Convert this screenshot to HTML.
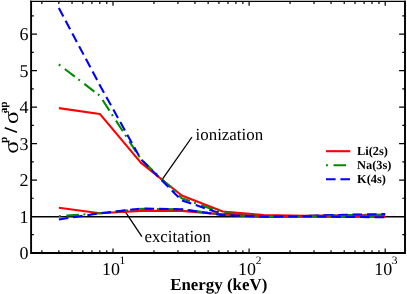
<!DOCTYPE html>
<html><head><meta charset="utf-8"><title>plot</title>
<style>html,body{margin:0;padding:0;background:#fff;}svg{display:block;will-change:transform;}text{font-family:"Liberation Serif",serif;fill:#000;text-rendering:geometricPrecision;}</style>
</head><body>
<svg width="407" height="294" viewBox="0 0 407 294">
<rect x="0" y="0" width="407" height="294" fill="#fff"/>
<line x1="31.1" y1="216.69" x2="405.0" y2="216.69" stroke="#000" stroke-width="1.4"/>
<line x1="161.4" y1="180.7" x2="192" y2="137" stroke="#000" stroke-width="1.3"/>
<line x1="125.2" y1="211.6" x2="141.9" y2="236.7" stroke="#000" stroke-width="1.3"/>
<polyline points="58.84,108.09 99.81,113.92 140.78,162.69 181.75,195.45 222.72,211.47 263.69,215.11 304.66,215.76 345.63,215.29 385.20,214.93" fill="none" stroke="#ff0000" stroke-width="2.1" stroke-linejoin="round"/>
<polyline points="58.84,64.41 99.81,95.72 140.78,159.05 181.75,198.18 222.72,212.92 263.69,216.38 304.66,216.02 345.63,215.11 385.20,214.56" fill="none" stroke="#008b00" stroke-width="2.1" stroke-linejoin="round" stroke-dasharray="1.9 5.6 12.6 4.5"/>
<polyline points="58.84,7.99 99.81,85.16 140.78,159.05 181.75,200.37 222.72,214.20 263.69,216.56 304.66,216.02 345.63,214.74 385.20,214.02" fill="none" stroke="#0000ff" stroke-width="2.1" stroke-linejoin="round" stroke-dasharray="9.6 4.8"/>
<polyline points="58.84,207.83 99.81,213.29 140.78,210.92 181.75,210.92 222.72,214.38 263.69,216.38 304.66,216.20 345.63,216.56 385.20,216.93" fill="none" stroke="#ff0000" stroke-width="2.1" stroke-linejoin="round"/>
<polyline points="58.84,216.20 99.81,213.29 140.78,208.92 181.75,209.28 222.72,214.74 263.69,216.75 304.66,216.38 345.63,216.75 385.20,217.11" fill="none" stroke="#008b00" stroke-width="2.1" stroke-linejoin="round" stroke-dasharray="1.9 5.6 12.6 4.5"/>
<polyline points="58.84,219.48 99.81,213.29 140.78,208.56 181.75,209.28 222.72,215.11 263.69,216.75 304.66,216.38 345.63,216.93 385.20,217.29" fill="none" stroke="#0000ff" stroke-width="2.1" stroke-linejoin="round" stroke-dasharray="9.6 4.8"/>
<path d="M41.84,252.95v-2.7 M41.84,1.3v2.7 M58.84,252.95v-2.7 M58.84,1.3v2.7 M72.03,252.95v-2.7 M72.03,1.3v2.7 M82.81,252.95v-2.7 M82.81,1.3v2.7 M91.92,252.95v-2.7 M91.92,1.3v2.7 M99.81,252.95v-2.7 M99.81,1.3v2.7 M106.77,252.95v-2.7 M106.77,1.3v2.7 M113.00,252.95v-4.5 M113.00,1.3v4.5 M153.97,252.95v-2.7 M153.97,1.3v2.7 M177.94,252.95v-2.7 M177.94,1.3v2.7 M194.94,252.95v-2.7 M194.94,1.3v2.7 M208.13,252.95v-2.7 M208.13,1.3v2.7 M218.91,252.95v-2.7 M218.91,1.3v2.7 M228.02,252.95v-2.7 M228.02,1.3v2.7 M235.91,252.95v-2.7 M235.91,1.3v2.7 M242.87,252.95v-2.7 M242.87,1.3v2.7 M249.10,252.95v-4.5 M249.10,1.3v4.5 M290.07,252.95v-2.7 M290.07,1.3v2.7 M314.04,252.95v-2.7 M314.04,1.3v2.7 M331.04,252.95v-2.7 M331.04,1.3v2.7 M344.23,252.95v-2.7 M344.23,1.3v2.7 M355.01,252.95v-2.7 M355.01,1.3v2.7 M364.12,252.95v-2.7 M364.12,1.3v2.7 M372.01,252.95v-2.7 M372.01,1.3v2.7 M378.97,252.95v-2.7 M378.97,1.3v2.7 M385.20,252.95v-4.5 M385.20,1.3v4.5 M31.1,234.72h2.7 M405.0,234.72h-2.7 M31.1,216.49h5.9 M405.0,216.49h-5.9 M31.1,198.26h2.7 M405.0,198.26h-2.7 M31.1,180.03h5.9 M405.0,180.03h-5.9 M31.1,161.80h2.7 M405.0,161.80h-2.7 M31.1,143.57h5.9 M405.0,143.57h-5.9 M31.1,125.34h2.7 M405.0,125.34h-2.7 M31.1,107.11h5.9 M405.0,107.11h-5.9 M31.1,88.88h2.7 M405.0,88.88h-2.7 M31.1,70.65h5.9 M405.0,70.65h-5.9 M31.1,52.42h2.7 M405.0,52.42h-2.7 M31.1,34.19h5.9 M405.0,34.19h-5.9 M31.1,15.96h2.7 M405.0,15.96h-2.7" stroke="#000" stroke-width="1.2" fill="none"/>
<path d="M31.1,0.7V252.95H405.0V0.7" fill="none" stroke="#000" stroke-width="1.9" stroke-linejoin="miter"/>
<line x1="30.150000000000002" y1="1.35" x2="405.95" y2="1.35" stroke="#000" stroke-width="1.4"/>
<text x="28.6" y="259.20" font-size="18" text-anchor="end">0</text>
<text x="28.6" y="222.74" font-size="18" text-anchor="end">1</text>
<text x="28.6" y="186.28" font-size="18" text-anchor="end">2</text>
<text x="28.6" y="149.82" font-size="18" text-anchor="end">3</text>
<text x="28.6" y="113.36" font-size="18" text-anchor="end">4</text>
<text x="28.6" y="76.90" font-size="18" text-anchor="end">5</text>
<text x="28.6" y="40.44" font-size="18" text-anchor="end">6</text>
<text x="102.00" y="275" font-size="18">10</text>
<text x="119.60" y="264.3" font-size="11.5">1</text>
<text x="238.10" y="275" font-size="18">10</text>
<text x="255.70" y="264.3" font-size="11.5">2</text>
<text x="374.20" y="275" font-size="18">10</text>
<text x="391.80" y="264.3" font-size="11.5">3</text>
<text x="195.6" y="139.6" font-size="16.9">ionization</text>
<text x="144.4" y="242.1" font-size="16.9">excitation</text>
<text x="170.2" y="289.7" font-size="16.9" font-weight="bold">Energy (keV)</text>
<g transform="translate(18.0,153.3) rotate(-90)">
<text x="0" y="0" font-size="21.4" transform="translate(-0.4,0) scale(1.16,1)">σ</text>
<text x="10.4" y="-10.8" font-size="11.2" font-weight="bold">p</text>
<line x1="21.0" y1="-1.0" x2="25.5" y2="-13.2" stroke="#000" stroke-width="1.6"/>
<text x="29.6" y="0" font-size="21.4" transform="translate(29.3,0) scale(1.14,1) translate(-29.6,0)">σ</text>
<text x="40.0" y="-10.8" font-size="11.2" font-weight="bold">ap</text>
</g>
<line x1="326" y1="151.2" x2="350.3" y2="151.2" stroke="#ff0000" stroke-width="2.1"/>
<line x1="326" y1="165.2" x2="350.3" y2="165.2" stroke="#008b00" stroke-width="2.1" stroke-dasharray="1.9 5.6 12.6 4.5"/>
<line x1="326" y1="179.2" x2="350.3" y2="179.2" stroke="#0000ff" stroke-width="2.1" stroke-dasharray="9.6 4.8"/>
<text x="357" y="154.9" font-size="12.4" font-weight="bold">Li(2s)</text>
<text x="357" y="168.7" font-size="12.4" font-weight="bold">Na(3s)</text>
<text x="357" y="182.6" font-size="12.4" font-weight="bold">K(4s)</text>
</svg></body></html>
